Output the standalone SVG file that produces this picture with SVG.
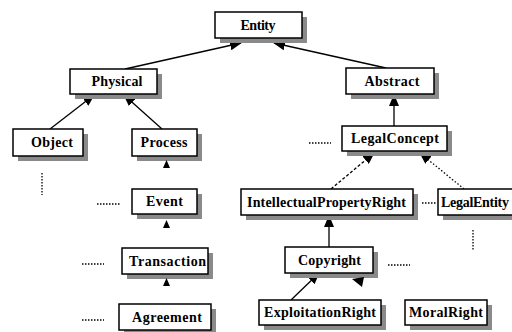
<svg xmlns="http://www.w3.org/2000/svg" width="512" height="332" viewBox="0 0 512 332">
<defs>
<style>
.sh{fill:#8a8a8a}
.bx{fill:#fff;stroke:#000;stroke-width:1.5}
.t{font-family:"Times New Roman","Liberation Serif","DejaVu Serif",serif;font-weight:700;font-size:14px;fill:#000;text-anchor:middle}
.c{stroke:#000;stroke-width:1.3;fill:none}
.ds{stroke-dasharray:3 2}
.dt{stroke-dasharray:1.5 2}
.dots{stroke:#000;stroke-width:1.3;stroke-dasharray:1.5 1.5;fill:none}
.tri{fill:#000}
</style>
<marker id="ah" viewBox="0 0 12 10" refX="11" refY="5" markerWidth="12" markerHeight="10" markerUnits="userSpaceOnUse" orient="auto">
<path d="M0,0 L12,5 L0,10 Z" fill="#000"/>
</marker>
</defs>
<rect width="512" height="332" fill="#fff"/>
<g id="connectors">
<line class="c" x1="125" y1="69" x2="241" y2="43" marker-end="url(#ah)"/>
<line class="c" x1="386" y1="68" x2="274" y2="43" marker-end="url(#ah)"/>
<line class="c" x1="50" y1="129" x2="94" y2="95" marker-end="url(#ah)"/>
<line class="c" x1="162" y1="129" x2="124" y2="95" marker-end="url(#ah)"/>
<line class="c" x1="394" y1="126" x2="394" y2="95" marker-end="url(#ah)"/>
<line class="c ds" x1="331" y1="189" x2="374" y2="153" marker-end="url(#ah)"/>
<line class="c dt" x1="464" y1="189" x2="420" y2="153" marker-end="url(#ah)"/>
<line class="c" x1="329" y1="247" x2="329" y2="216" marker-end="url(#ah)"/>
<line class="c" x1="291" y1="300" x2="319" y2="273" marker-end="url(#ah)"/>
</g>
<g id="Entity"><rect class="sh" x="220" y="17" width="87" height="26"/><rect class="bx" x="215" y="12" width="87" height="26"/><text class="t" x="258" y="30" textLength="35">Entity</text></g>
<g id="Physical"><rect class="sh" x="75" y="74" width="87" height="25"/><rect class="bx" x="70" y="69" width="87" height="25"/><text class="t" x="117" y="86" textLength="51">Physical</text></g>
<g id="Abstract"><rect class="sh" x="351" y="73" width="88" height="26"/><rect class="bx" x="346" y="68" width="88" height="26"/><text class="t" x="392" y="86" textLength="55">Abstract</text></g>
<g id="Object"><rect class="sh" x="18" y="134" width="70" height="27"/><rect class="bx" x="13" y="129" width="70" height="27"/><text class="t" x="52" y="147" textLength="42">Object</text></g>
<g id="Process"><rect class="sh" x="137" y="134" width="65" height="27"/><rect class="bx" x="132" y="129" width="65" height="27"/><text class="t" x="164" y="147" textLength="47">Process</text></g>
<g id="LegalConcept"><rect class="sh" x="347" y="131" width="105" height="25"/><rect class="bx" x="342" y="126" width="105" height="25"/><text class="t" x="395" y="143" textLength="88">LegalConcept</text></g>
<g id="Event"><rect class="sh" x="137" y="194" width="65" height="25"/><rect class="bx" x="132" y="189" width="65" height="25"/><text class="t" x="164.5" y="206" textLength="37">Event</text></g>
<g id="Transaction"><rect class="sh" x="127" y="253" width="86" height="26"/><rect class="bx" x="122" y="248" width="86" height="26"/><text class="t" x="167.5" y="266" textLength="77">Transaction</text></g>
<g id="Agreement"><rect class="sh" x="124" y="309" width="92" height="26"/><rect class="bx" x="119" y="304" width="92" height="26"/><text class="t" x="167" y="322" textLength="70">Agreement</text></g>
<g id="IntellectualPropertyRight"><rect class="sh" x="246" y="194" width="172" height="26"/><rect class="bx" x="241" y="189" width="172" height="26"/><text class="t" x="326.5" y="207" textLength="159">IntellectualPropertyRight</text></g>
<g id="LegalEntity"><rect class="sh" x="443" y="194" width="80" height="26"/><rect class="bx" x="438" y="189" width="80" height="26"/><text class="t" x="441" y="207" style="text-anchor:start" textLength="68">LegalEntity</text></g>
<g id="Copyright"><rect class="sh" x="290" y="252" width="88" height="26"/><rect class="bx" x="285" y="247" width="88" height="26"/><text class="t" x="329.5" y="265" textLength="63">Copyright</text></g>
<g id="ExploitationRight"><rect class="sh" x="264" y="305" width="122" height="25"/><rect class="bx" x="259" y="300" width="122" height="25"/><text class="t" x="320" y="317" textLength="112">ExploitationRight</text></g>
<g id="MoralRight"><rect class="sh" x="410" y="305" width="82" height="25"/><rect class="bx" x="405" y="300" width="82" height="25"/><text class="t" x="446" y="317" textLength="74">MoralRight</text></g>
<g id="marks">
<polygon class="tri" points="166.5,160 163,168 170,168"/>
<polygon class="tri" points="166.5,220 163,228 170,228"/>
<polygon class="tri" points="166.5,278 163,286 170,286"/>
<polygon class="tri" points="352,279 364,277 362,287"/>
<line class="dots" x1="42" y1="173" x2="42" y2="195"/>
<line class="dots" x1="473" y1="230" x2="473" y2="251"/>
<line class="dots" x1="309" y1="143" x2="331" y2="143"/>
<line class="dots" x1="97" y1="204" x2="121" y2="204"/>
<line class="dots" x1="82" y1="264" x2="104" y2="264"/>
<line class="dots" x1="82" y1="320" x2="104" y2="320"/>
<line class="dots" x1="422" y1="203" x2="436" y2="203"/>
<line class="dots" x1="388" y1="265" x2="410" y2="265"/>
</g>
</svg>
